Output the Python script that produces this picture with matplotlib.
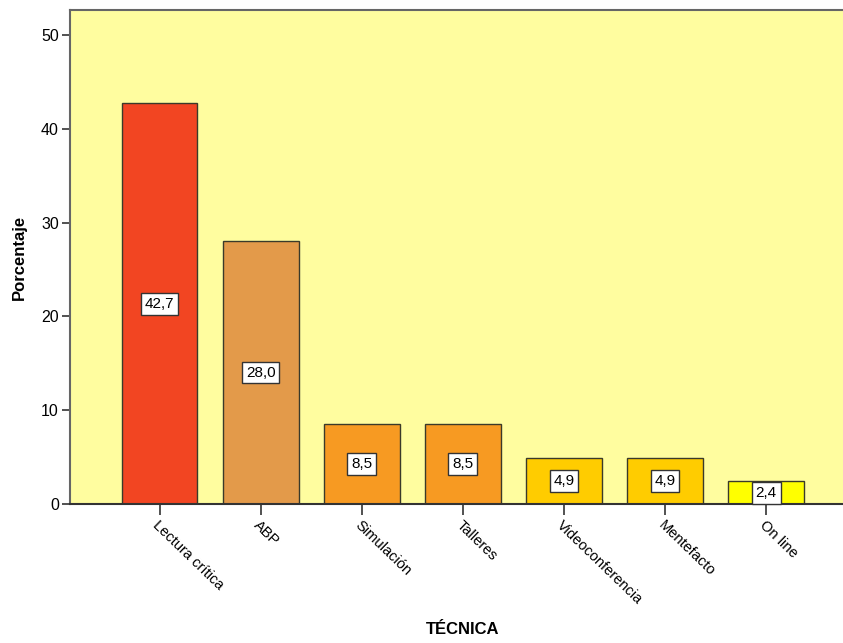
import matplotlib
matplotlib.use("Agg")
import matplotlib.pyplot as plt
import numpy as np

plt.rcParams['font.family'] = ['Liberation Sans', 'DejaVu Sans']

categorias = ["Lectura crítica", "ABP", "Simulación", "Talleres",
              "Videoconferencia", "Mentefacto", "On line"]
porcentajes = [42.7, 28.0, 8.5, 8.5, 4.9, 4.9, 2.4]
colores = ["#F24522", "#E39A4A", "#F79A22", "#F79A22", "#FFCC00", "#FFCC00", "#FFFF00"]
yticks = [0, 10, 20, 30, 40, 50]

fig = plt.figure(figsize=(8.43, 6.43), dpi=100)
ax = fig.add_axes([70 / 843, 139 / 643, 1 - 70 / 843, (504 - 10) / 643])
ax.set_facecolor("#FFFD9F")

x = np.arange(len(categorias))
bars = ax.bar(x, porcentajes, width=0.75, color=colores, edgecolor="#3a3a2a", linewidth=1.0, zorder=2)

# etiquetas de valor al centro de cada barra
for xi, v in zip(x, porcentajes):
    ax.text(xi, v / 2, f"{v:.1f}".replace(".", ","), ha="center", va="center", fontsize=11,
            zorder=4, bbox=dict(boxstyle="square,pad=0.25", facecolor="white", edgecolor="#333333", linewidth=1.0))

ax.set_xlim(-0.886, 6.76)
ax.set_ylim(0, (504 - 10) / ((504 - 35) / 50))
ax.set_yticks(yticks)
ax.set_yticklabels([str(t) for t in yticks], fontsize=11.5)
ax.set_xticks(x)
ax.set_xticklabels(categorias, rotation=-44, ha="left", va="top", rotation_mode="anchor", fontsize=10.5)
ax.tick_params(axis="x", length=8, width=1.2, pad=2, color="#333333")
ax.tick_params(axis="y", length=6, width=1.2, pad=2, color="#333333")

for side in ["left", "top"]:
    ax.spines[side].set_color("#666666")
    ax.spines[side].set_linewidth(1.5)
ax.spines["bottom"].set_color("#333333")
ax.spines["bottom"].set_linewidth(1.5)
ax.spines["right"].set_visible(False)

ax.set_ylabel("Porcentaje", fontsize=12, fontweight="bold", labelpad=10)
fig.text(463 / 843, 1 - 630 / 643, "TÉCNICA", ha="center", va="center", fontsize=12, fontweight="bold")

fig.savefig("out.png", dpi=100)
